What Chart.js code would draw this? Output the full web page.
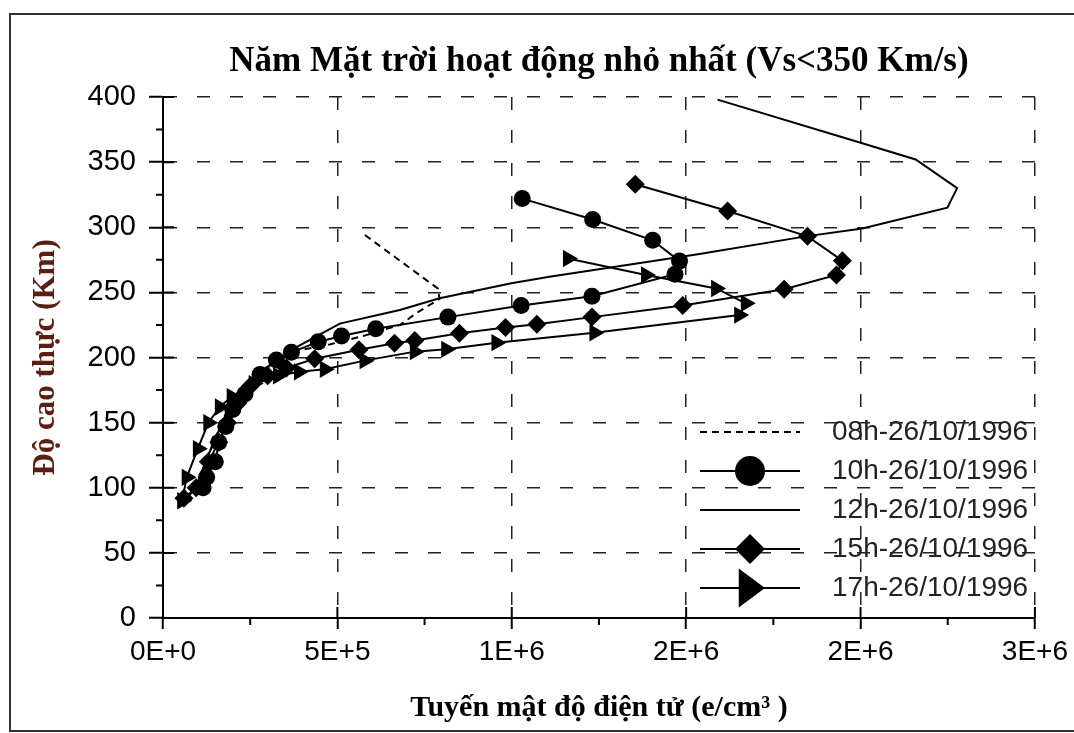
<!DOCTYPE html>
<html lang="vi">
<head>
<meta charset="UTF-8">
<meta name="viewport" content="width=device-width, initial-scale=1.0">
<title>Năm Mặt trời hoạt động nhỏ nhất</title>
<script src="https://cdn.jsdelivr.net/npm/chart.js"></script>
<style>
    html, body { margin: 0; padding: 0; background: #fff; }
    #chart-container { position: relative; width: 1074px; height: 733px; }
</style>
</head>
<body>
<div id="chart-container"><canvas id="neChart"></canvas></div>
<script>
// mật độ điện tử (e/cm3) theo độ cao thực (km)
const dens08 = [60e3, 100e3, 145e3, 185e3, 235e3, 295e3, 380e3, 478e3, 580e3, 680e3, 726e3, 793e3, 788e3, 574e3];
const alt08  = [88, 105, 135, 160, 178, 192, 205, 210, 217, 225, 234, 245, 253, 295];

const dens10 = [115e3, 125e3, 150e3, 160e3, 180e3, 200e3, 235e3, 278e3, 325e3, 368e3, 445e3, 512e3, 610e3, 817e3, 1027e3, 1230e3, 1468e3, 1481e3, 1404e3, 1232e3, 1030e3];
const alt10  = [100, 108, 120, 135, 147, 160, 172, 187, 198, 204, 212, 216.5, 222, 231, 240, 247, 264, 274, 290, 306, 322];

const dens12 = [55e3, 95e3, 130e3, 170e3, 210e3, 278e3, 383e3, 507e3, 679e3, 793e3, 999e3, 1108e3, 1538e3, 1843e3, 2005e3, 2249e3, 2277e3, 2158e3, 2005e3, 1590e3];
const alt12  = [88, 100, 125, 150, 170, 189, 208, 226, 236.5, 245.5, 257, 262, 279.5, 293, 299, 315, 330, 352, 364.5, 398];

const dens15 = [60e3, 95e3, 130e3, 160e3, 185e3, 215e3, 250e3, 300e3, 354e3, 435e3, 562e3, 664e3, 722e3, 850e3, 982e3, 1072e3, 1230e3, 1490e3, 1781e3, 1931e3, 1948e3, 1848e3, 1619e3, 1354e3];
const alt15  = [92, 100, 120, 135, 150, 165, 178, 186, 192, 199, 206, 211, 213, 218.6, 223, 225.5, 231, 240, 252.4, 263.4, 274.3, 293, 312.5, 333];

const dens17 = [55e3, 68e3, 100e3, 130e3, 163e3, 197e3, 260e3, 330e3, 390e3, 464e3, 578e3, 722e3, 812e3, 956e3, 1237e3, 1652e3, 1671e3, 1586e3, 1385e3, 1161e3];
const alt17  = [90, 108, 130, 150, 162, 170, 180, 186, 189, 191, 197.6, 204.5, 206.3, 211.4, 219, 232.6, 241.6, 253, 263.4, 276];

const seriesLabels = ['08h-26/10/1996', '10h-26/10/1996', '12h-26/10/1996', '15h-26/10/1996', '17h-26/10/1996'];
const xTickLabels = ['0E+0', '5E+5', '1E+6', '2E+6', '2E+6', '3E+6'];

function toPoints(xs, ys) {
    return xs.map((x, i) => ({ x: x, y: ys[i] }));
}

// khung ngoài của hình
const framePlugin = {
    id: 'frame',
    beforeDraw(chart) {
        const ctx = chart.ctx;
        ctx.save();
        ctx.fillStyle = '#fff';
        ctx.fillRect(0, 0, chart.width, chart.height);
        ctx.strokeStyle = '#333';
        ctx.lineWidth = 2;
        ctx.strokeRect(10, 14, chart.width + 20, 717);
        ctx.restore();
    }
};

// vạch chia phụ và phần vạch chính nằm trong vùng vẽ
const minorTicks = {
    id: 'minorTicks',
    afterDraw(chart) {
        const ctx = chart.ctx, area = chart.chartArea;
        const xs = chart.scales.x, ys = chart.scales.y;
        ctx.save();
        ctx.strokeStyle = '#000';
        ctx.lineWidth = 2;
        ctx.beginPath();
        ys.ticks.forEach((t, i) => {
            const py = ys.getPixelForValue(t.value);
            ctx.moveTo(area.left, py); ctx.lineTo(area.left + 11, py);
            if (i < ys.ticks.length - 1) {
                const my = ys.getPixelForValue((t.value + ys.ticks[i + 1].value) / 2);
                ctx.moveTo(area.left - 7, my); ctx.lineTo(area.left, my);
            }
        });
        xs.ticks.forEach((t, i) => {
            const px = xs.getPixelForValue(t.value);
            ctx.moveTo(px, area.bottom); ctx.lineTo(px, area.bottom - 11);
            if (i < xs.ticks.length - 1) {
                const mx = xs.getPixelForValue((t.value + xs.ticks[i + 1].value) / 2);
                ctx.moveTo(mx, area.bottom); ctx.lineTo(mx, area.bottom + 7);
            }
        });
        ctx.stroke();
        ctx.restore();
    }
};

function drawMarker(ctx, style, x, y, r) {
    ctx.beginPath();
    if (style === 'circle') {
        ctx.arc(x, y, r, 0, Math.PI * 2);
    } else if (style === 'rectRot') {
        ctx.moveTo(x, y - r); ctx.lineTo(x + r, y); ctx.lineTo(x, y + r); ctx.lineTo(x - r, y);
        ctx.closePath();
    } else if (style === 'triangle') {
        ctx.moveTo(x + r, y); ctx.lineTo(x - r * 0.75, y - r * 1.3); ctx.lineTo(x - r * 0.75, y + r * 1.3);
        ctx.closePath();
    }
    ctx.fill();
}

const sampleLegend = {
    id: 'sampleLegend',
    afterDraw(chart, args, opts) {
        const ctx = chart.ctx;
        ctx.save();
        chart.data.datasets.forEach((ds, i) => {
            const y = opts.top + i * opts.rowGap;
            ctx.strokeStyle = '#000';
            ctx.fillStyle = '#000';
            ctx.lineWidth = 2;
            ctx.setLineDash(ds.borderDash || []);
            ctx.beginPath();
            ctx.moveTo(opts.x, y);
            ctx.lineTo(opts.x + opts.lineLen, y);
            ctx.stroke();
            ctx.setLineDash([]);
            if (ds.pointRadius > 0) drawMarker(ctx, ds.pointStyle, opts.x + opts.lineLen / 2, y, opts.markerSize);
            ctx.fillStyle = '#222';
            ctx.font = '28px "Liberation Sans", Arial, sans-serif';
            ctx.textBaseline = 'middle';
            ctx.textAlign = 'left';
            ctx.fillText(ds.label, opts.textX, y);
        });
        ctx.restore();
    }
};

const lineBase = { showLine: true, borderColor: '#000', backgroundColor: '#000', borderWidth: 2, tension: 0, pointBorderWidth: 0 };

new Chart(document.getElementById('neChart'), {
    type: 'scatter',
    data: {
        datasets: [
            Object.assign({}, lineBase, { label: seriesLabels[0], data: toPoints(dens08, alt08), borderDash: [7, 5], pointRadius: 0 }),
            Object.assign({}, lineBase, { label: seriesLabels[1], data: toPoints(dens10, alt10), pointStyle: 'circle', pointRadius: 8.5 }),
            Object.assign({}, lineBase, { label: seriesLabels[2], data: toPoints(dens12, alt12), pointRadius: 0 }),
            Object.assign({}, lineBase, { label: seriesLabels[3], data: toPoints(dens15, alt15), pointStyle: 'rectRot', pointRadius: 9.5 }),
            Object.assign({}, lineBase, { label: seriesLabels[4], data: toPoints(dens17, alt17), pointStyle: 'triangle', rotation: 90, pointRadius: 10 })
        ]
    },
    plugins: [framePlugin, minorTicks, sampleLegend],
    options: {
        responsive: true,
        maintainAspectRatio: false,
        animation: false,
        events: [],
        layout: { padding: { left: 12, right: 38, top: 14, bottom: 2 } },
        plugins: {
            legend: { display: false },
            tooltip: { enabled: false },
            title: {
                display: true,
                fullSize: false,
                text: 'Năm Mặt trời hoạt động nhỏ nhất (Vs<350 Km/s)',
                color: '#000',
                font: { family: '"Liberation Serif", "Times New Roman", serif', size: 35, weight: 'bold' },
                padding: { top: 27, bottom: 14 }
            },
            sampleLegend: { x: 700, lineLen: 100, textX: 832, top: 432, rowGap: 39, markerSize: 15 }
        },
        scales: {
            x: {
                type: 'linear',
                min: 0,
                max: 2.5e6,
                afterFit: s => { s.height = 113; },
                ticks: {
                    stepSize: 5e5,
                    color: '#000',
                    padding: 6,
                    maxRotation: 0,
                    font: { family: '"Liberation Sans", Arial, sans-serif', size: 28 },
                    callback: (v, i) => xTickLabels[i]
                },
                grid: { color: '#222', lineWidth: 1.5, tickColor: '#000', tickWidth: 2, tickLength: 11, tickBorderDash: [] },
                border: { display: true, color: '#000', width: 2, dash: [13, 20] },
                title: {
                    display: true,
                    text: 'Tuyến mật độ điện tử (e/cm³ )',
                    color: '#000',
                    font: { family: '"Liberation Serif", "Times New Roman", serif', size: 30, weight: 'bold' },
                    padding: { top: 0, bottom: 5 }
                }
            },
            y: {
                min: 0,
                max: 400,
                afterFit: s => { s.width = 151; },
                ticks: {
                    stepSize: 50,
                    color: '#000',
                    padding: 13,
                    font: { family: '"Liberation Sans", Arial, sans-serif', size: 29 }
                },
                grid: { color: '#222', lineWidth: 1.5, tickColor: '#000', tickWidth: 2, tickLength: 14, tickBorderDash: [] },
                border: { display: true, color: '#000', width: 2, dash: [13, 20] },
                title: {
                    display: true,
                    text: 'Độ cao thực (Km)',
                    color: '#5a1f10',
                    font: { family: '"Liberation Serif", "Times New Roman", serif', size: 31, weight: 'bold' },
                    padding: { top: 15, bottom: 0 }
                }
            }
        }
    }
});
</script>
</body>
</html>
